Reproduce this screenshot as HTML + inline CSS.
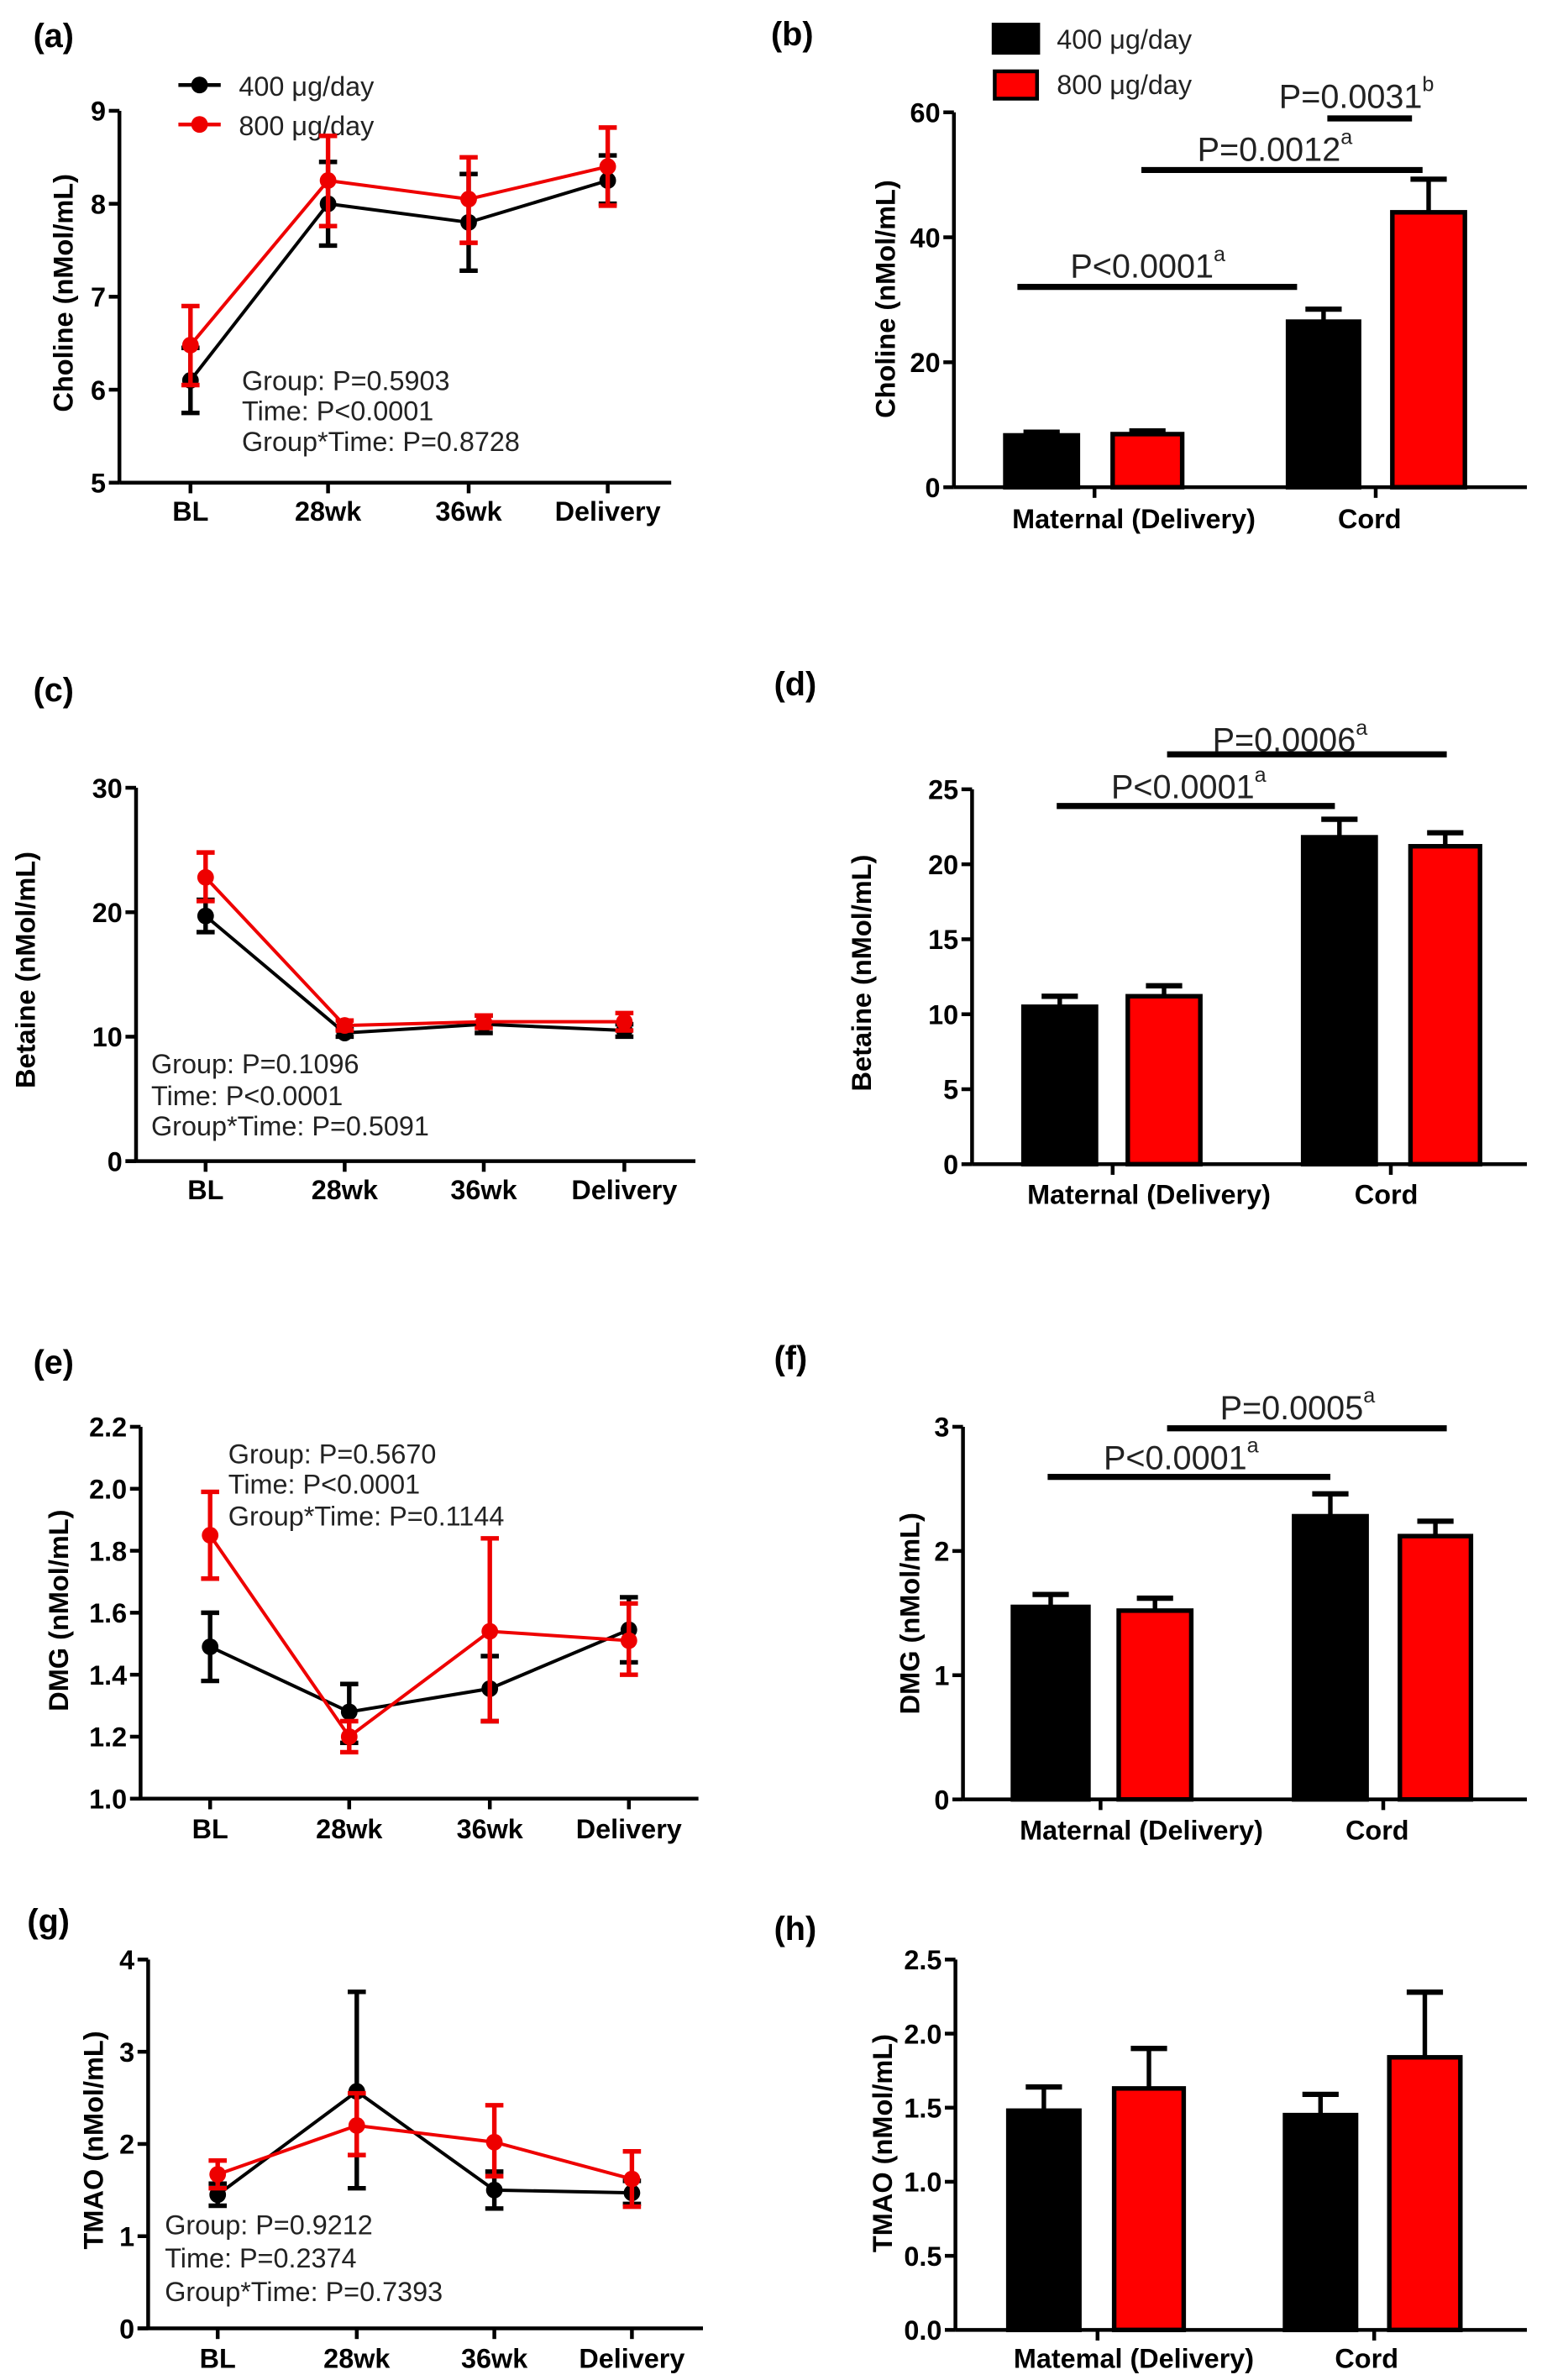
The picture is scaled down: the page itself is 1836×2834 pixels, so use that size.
<!DOCTYPE html>
<html><head><meta charset="utf-8"><style>
html,body{margin:0;padding:0;background:#fff;}
svg{display:block;}
text{font-family:"Liberation Sans",Arial,sans-serif;}
.t{font-weight:bold;font-size:18px;}
.pl{font-weight:bold;font-size:22px;}
.st{font-size:18px;fill:#222;}
.sg{font-size:22px;fill:#222;}
</style></head><body>
<svg id="s" xmlns="http://www.w3.org/2000/svg" width="1836" height="2834" viewBox="0 0 1020 1568" preserveAspectRatio="none">
<rect width="1020" height="1568" fill="#fff"/>
<text class="pl" x="22" y="31">(a)</text>
<text class="pl" x="510" y="30">(b)</text>
<text class="pl" x="22" y="462">(c)</text>
<text class="pl" x="512" y="458">(d)</text>
<text class="pl" x="22" y="905">(e)</text>
<text class="pl" x="512" y="902">(f)</text>
<text class="pl" x="18" y="1273">(g)</text>
<text class="pl" x="512" y="1278">(h)</text>

<text class="t" transform="translate(48,193) rotate(-90)" text-anchor="middle">Choline (nMol/mL)</text>
<text class="t" transform="translate(592,197) rotate(-90)" text-anchor="middle">Choline (nMol/mL)</text>
<text class="t" transform="translate(23,639) rotate(-90)" text-anchor="middle">Betaine (nMol/mL)</text>
<text class="t" transform="translate(576,641) rotate(-90)" text-anchor="middle">Betaine (nMol/mL)</text>
<text class="t" transform="translate(45,1061) rotate(-90)" text-anchor="middle">DMG (nMol/mL)</text>
<text class="t" transform="translate(608,1063) rotate(-90)" text-anchor="middle">DMG (nMol/mL)</text>
<text class="t" transform="translate(68,1410) rotate(-90)" text-anchor="middle">TMAO (nMol/mL)</text>
<text class="t" transform="translate(590,1412) rotate(-90)" text-anchor="middle">TMAO (nMol/mL)</text>

<!-- legend a -->
<line x1="118" y1="56" x2="146" y2="56" stroke="#000" stroke-width="2.5"/><circle cx="132" cy="56" r="5.5" fill="#000"/>
<line x1="118" y1="82" x2="146" y2="82" stroke="#e00" stroke-width="2.5"/><circle cx="132" cy="82" r="5.5" fill="#e00"/>
<text class="st" x="158" y="63">400 μg/day</text>
<text class="st" x="158" y="89">800 μg/day</text>
<!-- legend b -->
<rect x="657" y="16" width="30" height="19" fill="#000" stroke="#000" stroke-width="2"/>
<rect x="658" y="47" width="28" height="18" fill="#f00" stroke="#000" stroke-width="2.5"/>
<text class="st" x="699" y="32">400 μg/day</text>
<text class="st" x="699" y="62">800 μg/day</text>

<!-- stats -->
<text class="st" x="160" y="257">Group: P=0.5903</text>
<text class="st" x="160" y="277">Time: P&lt;0.0001</text>
<text class="st" x="160" y="297">Group*Time: P=0.8728</text>
<text class="st" x="100" y="707">Group: P=0.1096</text>
<text class="st" x="100" y="728">Time: P&lt;0.0001</text>
<text class="st" x="100" y="748">Group*Time: P=0.5091</text>
<text class="st" x="151" y="964">Group: P=0.5670</text>
<text class="st" x="151" y="984">Time: P&lt;0.0001</text>
<text class="st" x="151" y="1005">Group*Time: P=0.1144</text>
<text class="st" x="109" y="1472">Group: P=0.9212</text>
<text class="st" x="109" y="1494">Time: P=0.2374</text>
<text class="st" x="109" y="1516">Group*Time: P=0.7393</text>

<!-- significance texts -->
<text class="sg" x="708" y="183">P&lt;0.0001<tspan font-size="14" dy="-11">a</tspan></text>
<text class="sg" x="792" y="106">P=0.0012<tspan font-size="14" dy="-11">a</tspan></text>
<text class="sg" x="846" y="71">P=0.0031<tspan font-size="14" dy="-11">b</tspan></text>
<text class="sg" x="735" y="526">P&lt;0.0001<tspan font-size="14" dy="-11">a</tspan></text>
<text class="sg" x="802" y="495">P=0.0006<tspan font-size="14" dy="-11">a</tspan></text>
<text class="sg" x="730" y="968">P&lt;0.0001<tspan font-size="14" dy="-11">a</tspan></text>
<text class="sg" x="807" y="935">P=0.0005<tspan font-size="14" dy="-11">a</tspan></text>

<!-- x category labels -->
<g class="t" text-anchor="middle">
<text x="126" y="343">BL</text><text x="217" y="343">28wk</text><text x="310" y="343">36wk</text><text x="402" y="343">Delivery</text>
<text x="136" y="790">BL</text><text x="228" y="790">28wk</text><text x="320" y="790">36wk</text><text x="413" y="790">Delivery</text>
<text x="139" y="1211">BL</text><text x="231" y="1211">28wk</text><text x="324" y="1211">36wk</text><text x="416" y="1211">Delivery</text>
<text x="144" y="1560">BL</text><text x="236" y="1560">28wk</text><text x="327" y="1560">36wk</text><text x="418" y="1560">Delivery</text>
<text x="750" y="348">Maternal (Delivery)</text><text x="906" y="348">Cord</text>
<text x="760" y="793">Maternal (Delivery)</text><text x="917" y="793">Cord</text>
<text x="755" y="1212">Maternal (Delivery)</text><text x="911" y="1212">Cord</text>
<text x="750" y="1560">Matemal (Delivery)</text><text x="904" y="1560">Cord</text>
</g>
<g id="dyn"></g>
</svg>
<script>
var NS="http://www.w3.org/2000/svg",G=document.getElementById("dyn");
function el(n,a,t){var e=document.createElementNS(NS,n);for(var k in a)e.setAttribute(k,a[k]);if(t!==undefined)e.textContent=t;G.appendChild(e);return e;}
function ln(x1,y1,x2,y2,c,w){el("line",{x1:x1,y1:y1,x2:x2,y2:y2,stroke:c||"#000","stroke-width":w||2.5});}
function yaxis(ax,yT,yB,vmin,vmax,ticks,dec){
  var f=function(v){return yB-(v-vmin)/(vmax-vmin)*(yB-yT);};
  ln(ax,yT,ax,yB,"#000",2.5);
  ticks.forEach(function(v){var y=f(v);ln(ax-7,y,ax,y,"#000",2.5);
    el("text",{x:ax-9,y:y+6.5,"text-anchor":"end","class":"t"},dec?v.toFixed(dec):String(v));});
  return f;
}
function linePanel(p){
  var f=yaxis(p.ax,p.yT,p.yB,p.vmin,p.vmax,p.ticks,p.dec);
  ln(p.x0,p.yB,p.x1,p.yB,"#000",2.5);
  p.cats.forEach(function(x){ln(x,p.yB,x,p.yB+7,"#000",2.5);});
  [["#000",p.k,p.ke],["#e00",p.r,p.re]].forEach(function(s){
    var pts=s[1].map(function(v,i){return p.cats[i]+","+f(v);}).join(" ");
    el("polyline",{points:pts,fill:"none",stroke:s[0],"stroke-width":2.2});
    s[2].forEach(function(e,i){var x=p.cats[i];ln(x,f(e[0]),x,f(e[1]),s[0],3);
      ln(x-6,f(e[0]),x+6,f(e[0]),s[0],3);ln(x-6,f(e[1]),x+6,f(e[1]),s[0],3);});
    s[1].forEach(function(v,i){el("circle",{cx:p.cats[i],cy:f(v),r:5.5,fill:s[0]});});
  });
}
function barPanel(p){
  var f=yaxis(p.ax,p.yT,p.yB,0,p.vmax,p.ticks,p.dec);
  ln(p.ax,p.yB,1010,p.yB,"#000",2.5);
  p.tx.forEach(function(x){ln(x,p.yB,x,p.yB+7,"#000",2.5);});
  p.bars.forEach(function(b){var cx=(b[0]+b[1])/2;
    ln(cx,f(b[3]),cx,f(b[2]),"#000",3);ln(cx-12,f(b[3]),cx+12,f(b[3]),"#000",3.5);
    el("rect",{x:b[0],y:f(b[2]),width:b[1]-b[0],height:p.yB-f(b[2]),fill:b[4]?"#f00":"#000",stroke:"#000","stroke-width":3});});
  p.sig.forEach(function(s){ln(s[0],s[2],s[1],s[2],"#000",4);});
}
linePanel({ax:79,yT:73,yB:318,vmin:5,vmax:9,ticks:[5,6,7,8,9],x0:79,x1:444,cats:[126,217,310,402],
 k:[6.1,8.0,7.8,8.25],ke:[[5.75,6.45],[7.55,8.45],[7.28,8.32],[8.0,8.52]],
 r:[6.48,8.25,8.05,8.4],re:[[6.05,6.9],[7.76,8.73],[7.58,8.5],[7.98,8.82]]});
linePanel({ax:90,yT:519,yB:765,vmin:0,vmax:30,ticks:[0,10,20,30],x0:83,x1:460,cats:[136,228,320,413],
 k:[19.7,10.3,11.0,10.5],ke:[[18.4,21],[10,10.6],[10.3,11.7],[10,11]],
 r:[22.8,10.9,11.2,11.2],re:[[20.9,24.8],[10.5,11.3],[10.7,11.7],[10.5,11.9]]});
linePanel({ax:93,yT:940,yB:1185,vmin:1.0,vmax:2.2,ticks:[1.0,1.2,1.4,1.6,1.8,2.0,2.2],dec:1,x0:87,x1:462,cats:[139,231,324,416],
 k:[1.49,1.28,1.355,1.545],ke:[[1.38,1.6],[1.18,1.37],[1.25,1.46],[1.44,1.65]],
 r:[1.85,1.2,1.54,1.51],re:[[1.71,1.99],[1.15,1.25],[1.25,1.84],[1.4,1.63]]});
linePanel({ax:98,yT:1291,yB:1534,vmin:0,vmax:4,ticks:[0,1,2,3,4],x0:91,x1:465,cats:[144,236,327,418],
 k:[1.45,2.57,1.5,1.47],ke:[[1.33,1.57],[1.52,3.65],[1.3,1.7],[1.35,1.6]],
 r:[1.67,2.2,2.02,1.62],re:[[1.52,1.82],[1.88,2.55],[1.65,2.42],[1.32,1.92]]});
barPanel({ax:631,yT:74,yB:321,vmax:60,ticks:[0,20,40,60],tx:[724,910],
 bars:[[665,713,8.3,8.8,0],[736,782,8.5,9.0,1],[852,899,26.5,28.5,0],[921,969,44,49.3,1]],
 sig:[[673,858,189],[755,941,112],[878,934,78]]});
barPanel({ax:643,yT:520,yB:767,vmax:25,ticks:[0,5,10,15,20,25],tx:[736,920],
 bars:[[677,725,10.5,11.2,0],[746,794,11.2,11.9,1],[862,910,21.8,23,0],[933,979,21.2,22.1,1]],
 sig:[[699,883,531],[772,957,497]]});
barPanel({ax:637,yT:940,yB:1185.5,vmax:3,ticks:[0,1,2,3],tx:[728,915],
 bars:[[670,720,1.55,1.65,0],[740,788,1.52,1.62,1],[856,904,2.28,2.46,0],[926,973,2.12,2.24,1]],
 sig:[[693,880,973],[772,957,941]]});
barPanel({ax:632,yT:1291,yB:1535,vmax:2.5,ticks:[0,0.5,1,1.5,2,2.5],dec:1,tx:[726,909],
 bars:[[667,714,1.48,1.64,0],[737,783,1.63,1.9,1],[850,897,1.45,1.59,0],[919,966,1.84,2.28,1]],
 sig:[]});
</script>
</body></html>
